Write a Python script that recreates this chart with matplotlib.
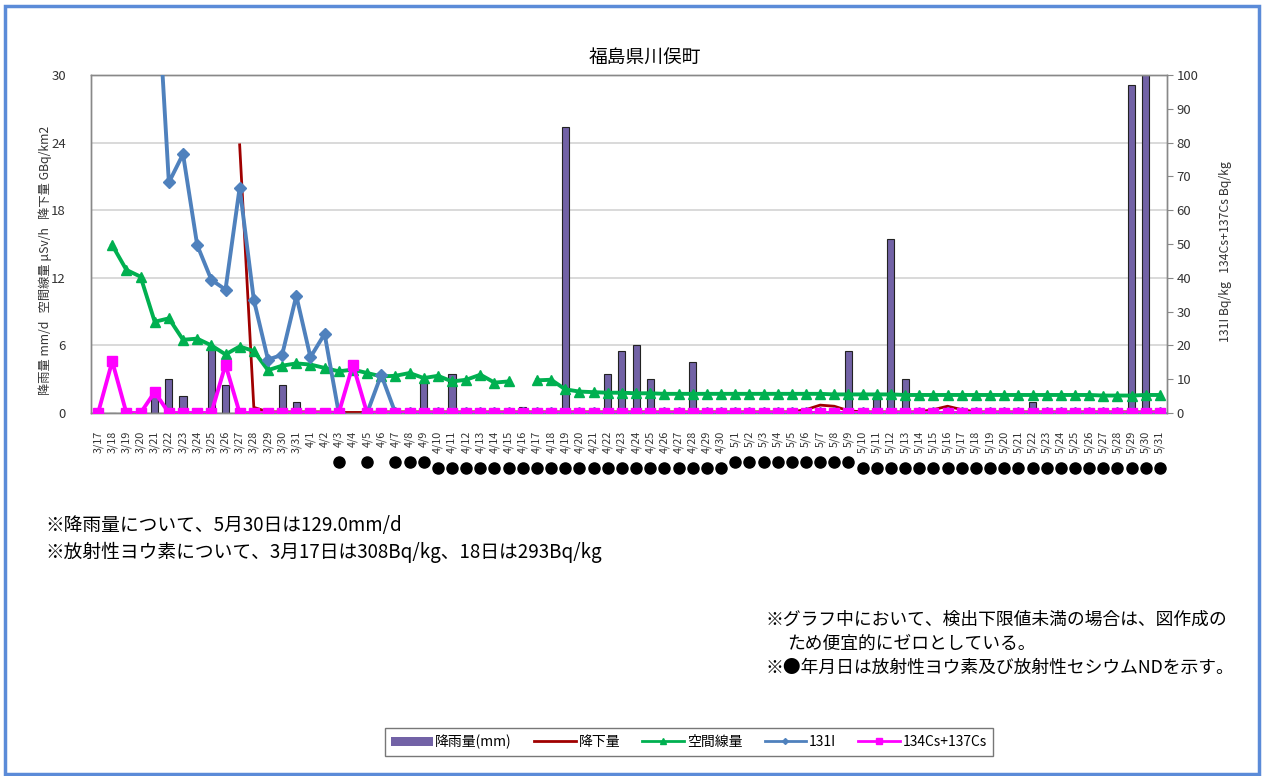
import numpy as np
import matplotlib
matplotlib.use("Agg")
import matplotlib.pyplot as plt
from matplotlib.patches import Rectangle, Patch
from matplotlib.lines import Line2D

plt.rcParams['font.family'] = ['Noto Sans CJK JP', 'DejaVu Sans']

# categories: 3/17 .. 5/31
dates = ([f"3/{d}" for d in range(17, 32)] + [f"4/{d}" for d in range(1, 31)]
         + [f"5/{d}" for d in range(1, 32)])
nan = np.nan

# rainfall mm/d (left axis)
rain = [0, 0, 0, 0, 1.8, 3.0, 1.5, 0, 5.7, 2.5, 0, 0, 0, 2.5, 1.0,
        0, 0, 0, 0, 0, 0, 0, 0, 2.8, 0, 3.5, 0, 0, 0, 0,
        0.5, 0, 0, 25.4, 0, 0, 3.5, 5.5, 6.0, 3.0, 0, 0, 4.5, 0, 0,
        0, 0, 0, 0, 0, 0, 0, 0, 5.5, 0, 1.2, 15.4, 3.0, 0, 0,
        0, 0, 0, 0, 0, 0, 1.0, 0, 0, 0, 0, 0, 0, 29.1, 129.0, 0]

# deposition GBq/km2 (left axis)
fallout = [nan, nan, nan, nan, nan, nan, nan, nan, nan, nan, 23.8, 0.5, 0.1, 0.1, 0.1,
           0.1, 0.1, 0.05, 0.05, 0.05, 0.1, 0.1, 0.1, 0.1, 0.1, 0.1, 0.1, 0.1, 0.1, 0.1,
           0.1, 0.1, 0.1, 0.1, 0.1, 0.1, 0.1, 0.1, 0.1, 0.1, 0.1, 0.1, 0.1, 0.1, 0.1,
           0.1, 0.1, 0.1, 0.1, 0.1, 0.3, 0.7, 0.6, 0.2, 0.1, 0.1, 0.1, 0.1, 0.1, 0.3,
           0.6, 0.3, 0.1, 0.1, 0.1, 0.1, 0.1, 0.1, 0.1, 0.1, 0.1, 0.1, 0.1, 0.1, 0.1, 0.1]

# air dose rate uSv/h (left axis)
dose = [nan, 14.9, 12.7, 12.1, 8.1, 8.4, 6.5, 6.6, 6.0, 5.2, 5.9, 5.5, 3.8, 4.2, 4.4,
        4.3, 4.0, 3.7, 3.85, 3.55, 3.25, 3.3, 3.55, 3.1, 3.3, 2.8, 2.95, 3.4, 2.7, 2.8,
        nan, 2.9, 2.95, 2.1, 1.9, 1.85, 1.8, 1.8, 1.75, 1.75, 1.7, 1.7, 1.7, 1.7, 1.7,
        1.7, 1.7, 1.7, 1.7, 1.7, 1.7, 1.7, 1.65, 1.65, 1.65, 1.65, 1.65, 1.6, 1.6, 1.6,
        1.6, 1.6, 1.6, 1.6, 1.6, 1.6, 1.6, 1.6, 1.6, 1.6, 1.6, 1.55, 1.55, 1.55, 1.6, 1.6]

# 131I Bq/kg (right axis)
i131 = [308, 293, nan, nan, 140, 68.2, 76.6, 49.7, 39.4, 36.5, 66.7, 33.5, 15.8, 17.2, 34.7,
        16.5, 23.4, 0, nan, 0, 11.3, 0, 0, 0, 0, 0, 0, 0, 0, 0,
        0, 0, 0, 0, 0, 0, 0, 0, 0, 0, 0, 0, 0, 0, 0,
        0, 0, 0, 0, 0, 0, 0, 0, 0, 0, 0, 0, 0, 0, 0,
        0, 0, 0, 0, 0, 0, 0, 0, 0, 0, 0, 0, 0, 0, 0, 0]

# 134Cs+137Cs Bq/kg (right axis)
cs = [0, 15.3, 0, 0, 6.2, 0, 0, 0, 0, 14.3, 0, 0, 0, 0, 0,
      0, 0, 0, 14.3, 0, 0, 0, 0, 0, 0, 0, 0, 0, 0, 0,
      0, 0, 0, 0, 0, 0, 0, 0, 0, 0, 0, 0, 0, 0, 0,
      0, 0, 0, 0, 0, 0, 0, 0, 0, 0, 0, 0, 0, 0, 0,
      0, 0, 0, 0, 0, 0, 0, 0, 0, 0, 0, 0, 0, 0, 0, 0]

# dates where both iodine and cesium were ND
nd_dates = ["4/3", "4/5"] + [d for d in dates[21:]]

x = np.arange(len(dates))
W, H = 1263, 776

fig = plt.figure(figsize=(W / 100, H / 100), dpi=100)
ax = fig.add_axes([91 / W, 1 - 413 / H, 1076 / W, 338 / H])
ax2 = ax.twinx()

ax.bar(x, rain, width=0.5, color='#7262a6', edgecolor='#222222', linewidth=0.8, zorder=2)
ax.plot(x, fallout, color='#a00000', lw=2, zorder=3)
ax.plot(x, dose, color='#00b050', lw=2.8, marker='^', ms=7, zorder=4)
ax2.plot(x, i131, color='#4f81bd', lw=2.8, marker='D', ms=6, zorder=3)
ax2.plot(x, cs, color='#ff00ff', lw=2.8, marker='s', ms=7.5, zorder=4)

ax.set_xlim(-0.5, 75.5)
ax.set_ylim(0, 30)
ax2.set_ylim(0, 100)
ax.set_yticks(np.arange(0, 31, 6))
ax2.set_yticks(np.arange(0, 101, 10))
ax.yaxis.grid(True, color='#d9d9d9', lw=1.4, zorder=0)
ax.set_axisbelow(True)

ax.set_xticks(x)
ax.set_xticklabels(dates, rotation=90, fontsize=7.8, color='#333333')
ax.tick_params(axis='x', length=0, pad=13)
ax.tick_params(axis='y', length=0, pad=18, labelsize=9.5, labelcolor='#333333')
ax2.tick_params(axis='y', length=4, color='#888888', pad=3, labelsize=9.5, labelcolor='#333333')
for a in (ax, ax2):
    for s in a.spines.values():
        s.set_color('#888888')
        s.set_linewidth(1)

# ND dots under the date labels
trans = ax.get_xaxis_transform()
for d in nd_dates:
    i = dates.index(d)
    yy = -0.145 if len(d) == 3 else -0.163
    ax.plot(i, yy, 'o', color='black', ms=8, transform=trans, clip_on=False)

fig.text(645 / W, 1 - 58 / H, '福島県川俣町', ha='center', va='center', fontsize=13.5)
fig.text(45 / W, 1 - 260 / H, '降雨量 mm/d   空間線量 μSv/h   降下量 GBq/km2',
         rotation=90, ha='center', va='center', fontsize=8.8, color='#333333')
fig.text(1225 / W, 1 - 252 / H, '131I Bq/kg   134Cs+137Cs Bq/kg',
         rotation=90, ha='center', va='center', fontsize=8.8, color='#333333')

fig.text(45 / W, 1 - 525 / H, '※降雨量について、5月30日は129.0mm/d', fontsize=13.5, va='center')
fig.text(45 / W, 1 - 552 / H, '※放射性ヨウ素について、3月17日は308Bq/kg、18日は293Bq/kg',
         fontsize=13.5, va='center')
fig.text(765 / W, 1 - 620 / H, '※グラフ中において、検出下限値未満の場合は、図作成の',
         fontsize=12.8, va='center')
fig.text(787 / W, 1 - 644 / H, 'ため便宜的にゼロとしている。', fontsize=12.8, va='center')
fig.text(765 / W, 1 - 668 / H, '※●年月日は放射性ヨウ素及び放射性セシウムNDを示す。',
         fontsize=12.8, va='center')

handles = [Patch(facecolor='#7262a6', edgecolor='none'),
           Line2D([], [], color='#a00000', lw=2),
           Line2D([], [], color='#00b050', lw=2, marker='^', ms=4),
           Line2D([], [], color='#4f81bd', lw=2, marker='D', ms=3),
           Line2D([], [], color='#ff00ff', lw=2, marker='s', ms=4)]
labels = ['降雨量(mm)', '降下量', '空間線量', '131I', '134Cs+137Cs']
leg = fig.legend(handles, labels, loc='center', bbox_to_anchor=(689 / W, 1 - 742 / H),
                 ncol=5, fontsize=10, frameon=True, fancybox=False, edgecolor='#555555',
                 handlelength=3.0, handletextpad=0.2, columnspacing=1.6,
                 borderpad=0.45)
leg.get_frame().set_linewidth(1)

fig.patches.append(Rectangle((5 / W, 2 / H), 1254 / W, 768 / H, transform=fig.transFigure,
                             fill=False, edgecolor='#5b8bd8', lw=2.5))

fig.savefig('out.png', dpi=100)
